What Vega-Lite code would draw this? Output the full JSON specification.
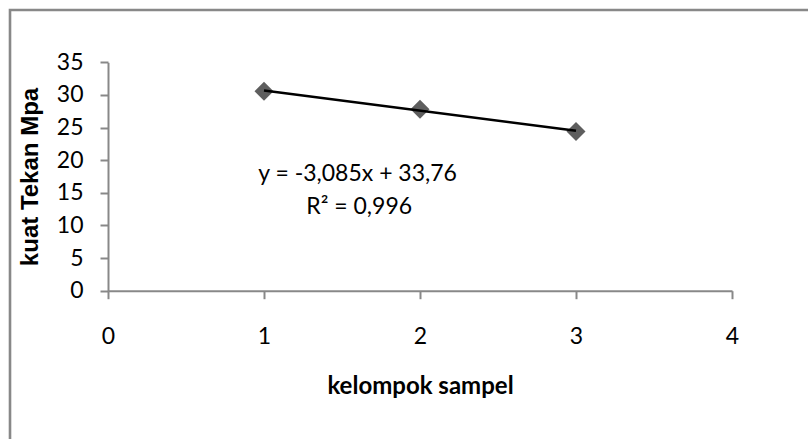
{
  "$schema": "https://vega.github.io/schema/vega-lite/v6.json",
  "width": 802,
  "height": 435,
  "autosize": "none",
  "padding": {"left": 10, "top": 10, "right": -4, "bottom": -6},
  "background": "white",
  "config": {
    "view": {"stroke": "#888888", "strokeWidth": 2.6},
    "font": "Lato"
  },
  "datasets": {
    "points": [
      {"kelompok": 1, "kuat": 30.56},
      {"kelompok": 2, "kuat": 27.82},
      {"kelompok": 3, "kuat": 24.39}
    ],
    "labels": [
      {"label": "y = -3,085x + 33,76", "lx": 1.6, "ly": 17.88},
      {"label": "R² = 0,996", "lx": 1.61, "ly": 12.9}
    ]
  },
  "layer": [
    {
      "data": {"name": "points"},
      "mark": {"type": "point", "shape": "diamond", "filled": true, "size": 360, "color": "#5e5e5e", "opacity": 1},
      "encoding": {
        "x": {
          "field": "kelompok",
          "type": "quantitative",
          "scale": {"domain": [0, 4], "range": [98, 722], "nice": false, "zero": false},
          "axis": {
            "values": [0, 1, 2, 3, 4],
            "format": "d",
            "offset": -154.3,
            "grid": false,
            "domainColor": "#888888",
            "domainWidth": 2,
            "tickColor": "#888888",
            "tickWidth": 2,
            "tickSize": 8,
            "labelFont": "Lato",
            "labelFontSize": 23,
            "labelColor": "#000000",
            "labelPadding": 27,
            "labelFlush": false,
            "labelOverlap": false,
            "title": "kelompok sampel",
            "titleFont": "Lato",
            "titleFontSize": 24,
            "titleFontWeight": "bold",
            "titleColor": "#000000",
            "titlePadding": 26
          }
        },
        "y": {
          "field": "kuat",
          "type": "quantitative",
          "scale": {"domain": [0, 35], "range": [280.7, 52.3], "nice": false, "zero": false},
          "axis": {
            "values": [0, 5, 10, 15, 20, 25, 30, 35],
            "format": "d",
            "offset": -98,
            "grid": false,
            "domainColor": "#888888",
            "domainWidth": 2,
            "tickColor": "#888888",
            "tickWidth": 2,
            "tickSize": 8,
            "labelFont": "Lato",
            "labelFontSize": 23,
            "labelColor": "#000000",
            "labelPadding": 17,
            "labelFlush": false,
            "labelOverlap": false,
            "title": "kuat Tekan Mpa",
            "titleFont": "Liberation Sans",
            "titleFontSize": 24,
            "titleFontWeight": "bold",
            "titleColor": "#000000",
            "titlePadding": 14
          }
        }
      }
    },
    {
      "data": {"name": "points"},
      "transform": [{"regression": "kuat", "on": "kelompok"}],
      "mark": {"type": "line", "color": "#000000", "strokeWidth": 2.5},
      "encoding": {
        "x": {"field": "kelompok", "type": "quantitative"},
        "y": {"field": "kuat", "type": "quantitative"}
      }
    },
    {
      "data": {"name": "labels"},
      "mark": {"type": "text", "font": "Lato", "fontSize": 23, "color": "#000000", "align": "center", "baseline": "middle"},
      "encoding": {
        "x": {"field": "lx", "type": "quantitative"},
        "y": {"field": "ly", "type": "quantitative"},
        "text": {"field": "label"}
      }
    }
  ]
}
